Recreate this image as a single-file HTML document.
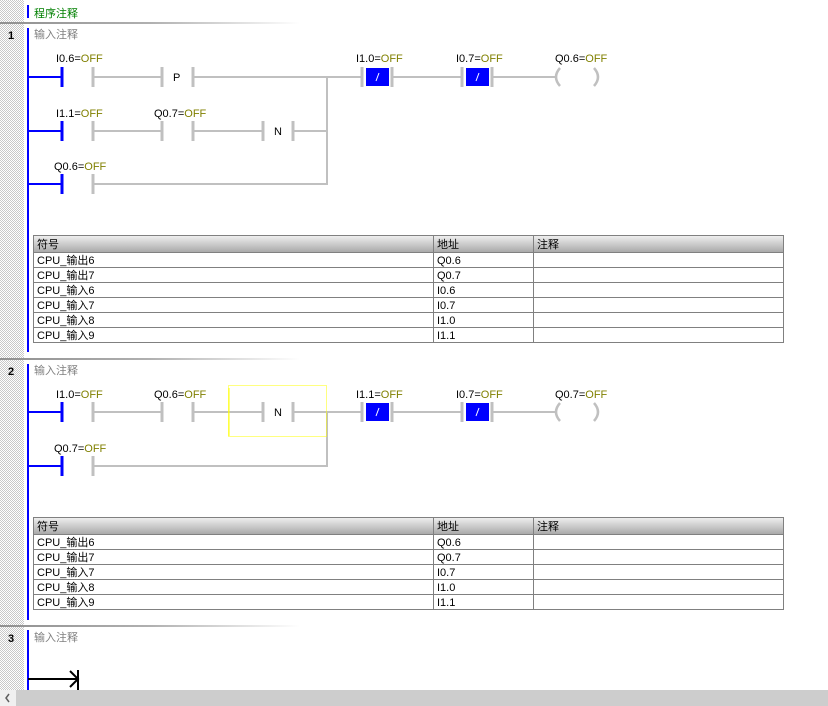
<!DOCTYPE html>
<html><head><meta charset="utf-8"><style>
html,body{margin:0;padding:0;background:#fff;width:828px;height:706px;overflow:hidden}
svg{display:block}
text{font-family:"Liberation Sans","Noto Sans CJK SC",sans-serif;font-size:11px}
</style></head><body>
<svg width="828" height="706" viewBox="0 0 828 706" xmlns="http://www.w3.org/2000/svg">
<defs>
<pattern id="chk" width="2" height="2" patternUnits="userSpaceOnUse"><rect width="2" height="2" fill="#fff"/><rect width="1" height="1" fill="#c8c8c8"/><rect x="1" y="1" width="1" height="1" fill="#c8c8c8"/></pattern>
<linearGradient id="sep" x1="0" x2="1"><stop offset="0" stop-color="#909090"/><stop offset="0.5" stop-color="#b0b0b0"/><stop offset="1" stop-color="#fff"/></linearGradient>
<linearGradient id="hdr" x1="0" y1="0" x2="0" y2="1"><stop offset="0" stop-color="#f0f0f0"/><stop offset="1" stop-color="#a8a8a8"/></linearGradient>
</defs>
<rect x="0" y="0" width="24" height="690" fill="url(#chk)"/>
<rect x="27" y="5" width="2" height="13" fill="#0000ff"/>
<text x="34" y="17" fill="#008000" font-size="12">程序注释</text>
<rect x="0" y="22" width="300" height="2" fill="url(#sep)"/>
<rect x="0" y="358" width="300" height="2" fill="url(#sep)"/>
<rect x="0" y="625" width="300" height="2" fill="url(#sep)"/>
<rect x="27" y="28" width="2" height="324" fill="#0000ff"/>
<rect x="27" y="364" width="2" height="256" fill="#0000ff"/>
<rect x="27" y="630" width="2" height="60" fill="#0000ff"/>
<text x="8" y="39" font-weight="bold" font-size="12">1</text>
<text x="8" y="375" font-weight="bold" font-size="12">2</text>
<text x="8" y="642" font-weight="bold" font-size="12">3</text>
<text x="34" y="38" fill="#808080" font-size="12">输入注释</text>
<text x="34" y="374" fill="#808080" font-size="12">输入注释</text>
<text x="34" y="641" fill="#808080" font-size="12">输入注释</text>

<g stroke="#c0c0c0" stroke-width="2" fill="none">
<path d="M93 77H162M193 77H362M392 77H462M492 77H555"/>
<path d="M93 131H162M193 131H263M293 131H327"/>
<path d="M93 184H327V77"/>
<path d="M93 412H162M193 412H263M293 412H362M392 412H462M492 412H555"/>
<path d="M93 466H327V412"/>
</g>
<g stroke="#c0c0c0" stroke-width="3">
<path d="M93 67V87M162 67V87M193 67V87M362 67V87M392 67V87M462 67V87M492 67V87"/>
<path d="M93 121V141M162 121V141M193 121V141M263 121V141M293 121V141"/>
<path d="M93 174V194"/>
<path d="M93 402V422M162 402V422M193 402V422M263 402V422M293 402V422M362 402V422M392 402V422M462 402V422M492 402V422"/>
<path d="M93 456V476"/>
</g>
<g stroke="#0000ff" stroke-width="2" fill="none"><path d="M28 77H62M28 131H62M28 184H62M28 412H62M28 466H62"/></g>
<g stroke="#0000ff" stroke-width="3"><path d="M62 67V87M62 121V141M62 174V194M62 402V422M62 456V476"/></g>
<g stroke="#c0c0c0" stroke-width="2.5" fill="none">
<path d="M560 68Q552 77 560 86M594 68Q602 77 594 86"/>
<path d="M560 403Q552 412 560 421M594 403Q602 412 594 421"/>
</g>
<g fill="#0000ff"><rect x="366" y="68" width="23" height="18"/><rect x="466" y="68" width="23" height="18"/><rect x="366" y="403" width="23" height="18"/><rect x="466" y="403" width="23" height="18"/></g>
<g stroke="#fff" stroke-width="1"><path d="M376 81L379 73M476 81L479 73M376 416L379 408M476 416L479 408"/></g>
<text x="173" y="81">P</text><text x="274" y="135">N</text><text x="274" y="416">N</text>
<rect x="228.5" y="385.5" width="98" height="51" fill="none" stroke="#ffff00" stroke-dasharray="1,1"/>
<line x1="229" y1="388" x2="229" y2="437" stroke="#ffff00" stroke-width="1"/>
<g>
<text x="56" y="62">I0.6=<tspan fill="#808000">OFF</tspan></text>
<text x="356" y="62">I1.0=<tspan fill="#808000">OFF</tspan></text>
<text x="456" y="62">I0.7=<tspan fill="#808000">OFF</tspan></text>
<text x="555" y="62">Q0.6=<tspan fill="#808000">OFF</tspan></text>
<text x="56" y="117">I1.1=<tspan fill="#808000">OFF</tspan></text>
<text x="154" y="117">Q0.7=<tspan fill="#808000">OFF</tspan></text>
<text x="54" y="170">Q0.6=<tspan fill="#808000">OFF</tspan></text>
<text x="56" y="398">I1.0=<tspan fill="#808000">OFF</tspan></text>
<text x="154" y="398">Q0.6=<tspan fill="#808000">OFF</tspan></text>
<text x="356" y="398">I1.1=<tspan fill="#808000">OFF</tspan></text>
<text x="456" y="398">I0.7=<tspan fill="#808000">OFF</tspan></text>
<text x="555" y="398">Q0.7=<tspan fill="#808000">OFF</tspan></text>
<text x="54" y="452">Q0.7=<tspan fill="#808000">OFF</tspan></text>
</g>
<rect x="33.5" y="235.5" width="750" height="17" fill="url(#hdr)" stroke="#808080"/>
<rect x="33.5" y="252.5" width="750" height="90" fill="#fff" stroke="#808080"/>
<g stroke="#808080"><path d="M34 267.5H783M34 282.5H783M34 297.5H783M34 312.5H783M34 327.5H783M433.5 236V342M533.5 236V342"/></g>
<text x="37" y="248">符号</text><text x="437" y="248">地址</text><text x="537" y="248">注释</text>
<text x="37" y="264">CPU_输出6</text><text x="437" y="264">Q0.6</text>
<text x="37" y="279">CPU_输出7</text><text x="437" y="279">Q0.7</text>
<text x="37" y="294">CPU_输入6</text><text x="437" y="294">I0.6</text>
<text x="37" y="309">CPU_输入7</text><text x="437" y="309">I0.7</text>
<text x="37" y="324">CPU_输入8</text><text x="437" y="324">I1.0</text>
<text x="37" y="339">CPU_输入9</text><text x="437" y="339">I1.1</text>
<rect x="33.5" y="517.5" width="750" height="17" fill="url(#hdr)" stroke="#808080"/>
<rect x="33.5" y="534.5" width="750" height="75" fill="#fff" stroke="#808080"/>
<g stroke="#808080"><path d="M34 549.5H783M34 564.5H783M34 579.5H783M34 594.5H783M433.5 518V609M533.5 518V609"/></g>
<text x="37" y="530">符号</text><text x="437" y="530">地址</text><text x="537" y="530">注释</text>
<text x="37" y="546">CPU_输出6</text><text x="437" y="546">Q0.6</text>
<text x="37" y="561">CPU_输出7</text><text x="437" y="561">Q0.7</text>
<text x="37" y="576">CPU_输入7</text><text x="437" y="576">I0.7</text>
<text x="37" y="591">CPU_输入8</text><text x="437" y="591">I1.0</text>
<text x="37" y="606">CPU_输入9</text><text x="437" y="606">I1.1</text>
<g stroke="#000" stroke-width="2" fill="none"><path d="M28 679H78M70 671L78 679L70 687M78 670V690"/></g>
<rect x="0" y="690" width="828" height="16" fill="#cdcdcd"/>
<rect x="0" y="690" width="16" height="16" fill="#f0f0f0"/>
<path d="M9 694L6 698L9 702" stroke="#606060" stroke-width="1.5" fill="none"/>
</svg>
</body></html>
